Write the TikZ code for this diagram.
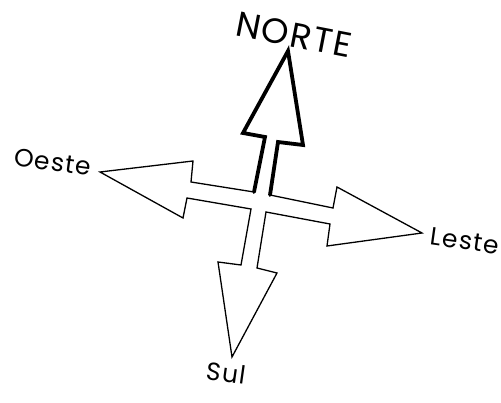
\documentclass[tikz,border=0pt]{standalone}
\usepackage{fontspec}
\setmainfont{Poppins}
\newfontfamily\widefont[LetterSpace=5]{Poppins}
\tikzset{
  thin arrow/.style={draw=black, line width=1.3pt, line join=miter},
  thick arrow/.style={draw=black, line width=3.8pt, line join=miter, line cap=round},
  label/.style={font=\widefont\fontsize{25}{25}\selectfont, inner sep=0pt},
}
\begin{document}
\begin{tikzpicture}[x=1pt, y=-1pt]
\useasboundingbox (0,0) rectangle (501,403);
% North arrow (thick, open at the bottom)
\coordinate (nLb) at (254,192);
\coordinate (nLt) at (265,137);
\coordinate (nLw) at (243,133);
\coordinate (nTip) at (288,51);
\coordinate (nRw) at (303,145);
\coordinate (nRt) at (278,142);
\coordinate (nRb) at (270,195);
\draw[thick arrow] (nLb) -- (nLt) -- (nLw) -- (nTip) -- (nRw) -- (nRt) -- (nRb);
% West, south and east arrows (one thin outline)
\draw[thin arrow] (nLb) -- (191,182) -- (193,161) -- (100,172) -- (183,218) -- (187,198) -- (251,209)
  -- (241,265) -- (218,262) -- (232,357) -- (277,273) -- (257,268) -- (266,212)
  -- (330,224) -- (327,246) -- (422,233) -- (337,187) -- (333,208) -- (nRb);
% Labels
\node[label, font=\widefont\fontsize{35}{35}\selectfont, rotate=-11] (norte) at (294,35) {NORTE};
\node[label, rotate=-8] (oeste) at (53,162) {Oeste};
\node[label, rotate=-8] (leste) at (465,241) {Leste};
\node[label, rotate=-8] (sul) at (226,373) {Sul};
\end{tikzpicture}
\end{document}
